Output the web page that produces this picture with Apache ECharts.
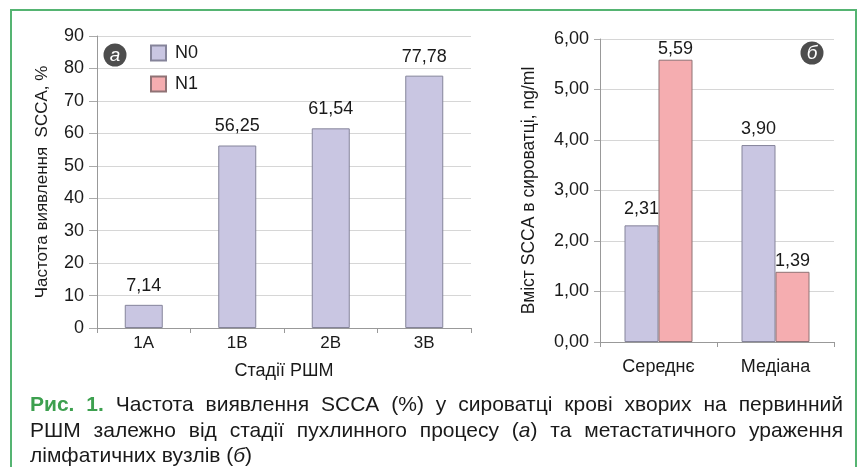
<!DOCTYPE html>
<html>
<head>
<meta charset="utf-8">
<script src="https://cdn.jsdelivr.net/npm/echarts@6/dist/echarts.min.js"></script>
<style>
  html, body { margin: 0; padding: 0; background: #fff; }
  #main { width: 859px; height: 467px; }
</style>
</head>
<body>
<div id="main"></div>
<script>
// дані: стадії РШМ (а) та вміст SCCA (б)
var stages = ['1A', '1B', '2B', '3B'];
var stageN0 = [7.14, 56.25, 61.54, 77.78];

var stats = ['Середнє', 'Медіана'];
var statN0 = [2.31, 3.90];
var statN1 = [5.59, 1.39];

var captionLines = [
  ['Рис.', '1.', 'Частота', 'виявлення', 'SCCA', '(%)', 'у', 'сироватці', 'крові', 'хворих', 'на', 'первинний'],
  ['РШМ', 'залежно', 'від', 'стадії', 'пухлинного', 'процесу', '(а)', 'та', 'метастатичного', 'ураження'],
  ['лімфатичних', 'вузлів', '(б)']
];

var FONT = '"Liberation Sans", Arial, sans-serif';
var c_n0 = '#c9c6e2', c_n1 = '#f5adb0';
var c_green = '#55b472';

//формат числа з комою
function comma(v) {
    return v.toFixed(2).replace('.', ',');
}

//вимірювання ширини тексту для вирівнювання підпису
var ctx = document.createElement('canvas').getContext('2d');
function textWidth(txt, font) {
    ctx.font = font;
    return ctx.measureText(txt).width;
}

//підпис: рядки по ширині
function buildCaption() {
    var els = [];
    var x0 = 30, x1 = 843, fs = 21;
    var ys = [405, 431, 456];
    var normal = fs + 'px ' + FONT;
    var bold = 'bold ' + fs + 'px ' + FONT;
    for (var li = 0; li < captionLines.length; li++) {
        var words = captionLines[li];
        var fonts = [], widths = [], sum = 0;
        for (var i = 0; i < words.length; i++) {
            var isBold = (li === 0 && i < 2);
            fonts.push(isBold ? bold : normal);
            widths.push(textWidth(words[i], fonts[i]));
            sum += widths[i];
        }
        var gap = (li < 2) ? (x1 - x0 - sum) / (words.length - 1) : textWidth(' ', normal);
        var x = x0;
        for (var j = 0; j < words.length; j++) {
            var isB = (li === 0 && j < 2);
            var w = words[j];
            var st = {
                font: fonts[j],
                fill: isB ? '#3da04f' : '#1a1a1a',
                textVerticalAlign: 'middle'
            };
            //буква в дужках курсивом
            if (w === '(а)' || w === '(б)') {
                st.text = '{n|(}{i|' + w.charAt(1) + '}{n|)}';
                st.rich = {
                    n: { font: normal, fill: '#1a1a1a' },
                    i: { font: 'italic ' + normal, fill: '#1a1a1a' }
                };
            } else {
                st.text = w;
            }
            els.push({ type: 'text', x: x, y: ys[li], style: st });
            x += widths[j] + gap;
        }
    }
    return els;
}

function badge(cx, cy, letter) {
    return [
        { type: 'circle', shape: { cx: cx, cy: cy, r: 11.5 }, style: { fill: '#4d4d4d' } },
        { type: 'text', x: cx, y: cy + 1, style: {
            text: letter, fill: '#fff', font: 'italic 19px ' + FONT,
            textAlign: 'center', textVerticalAlign: 'middle' } }
    ];
}

var axisLabelStyle = { fontFamily: FONT, color: '#1a1a1a' };
var nameStyle = { fontFamily: FONT, color: '#1a1a1a' };

var chart = echarts.init(document.getElementById('main'), null, { renderer: 'canvas' });

var option = {
    backgroundColor: '#fff',
    animation: false,
    legend: {
        data: ['N0', 'N1'],
        orient: 'vertical',
        left: 150, top: 44,
        padding: 0,
        itemWidth: 15, itemHeight: 15,
        itemGap: 13,
        icon: 'rect',
        textStyle: { fontFamily: FONT, fontSize: 18, color: '#1a1a1a', padding: [0, 0, 0, 4] }
    },
    grid: [
        { left: 97, right: 388, top: 36, bottom: 139 },
        { left: 600, right: 25, top: 39, bottom: 125 }
    ],
    xAxis: [
        {
            gridIndex: 0, type: 'category', data: stages,
            name: 'Стадії РШМ', nameLocation: 'middle', nameGap: 34,
            nameTextStyle: Object.assign({ fontSize: 18 }, nameStyle),
            axisLine: { lineStyle: { color: '#999' } },
            axisTick: { show: true, length: 5, lineStyle: { color: '#999' } },
            axisLabel: Object.assign({ fontSize: 17, margin: 7 }, axisLabelStyle)
        },
        {
            gridIndex: 1, type: 'category', data: stats,
            axisLine: { lineStyle: { color: '#999' } },
            axisTick: { show: true, length: 5, lineStyle: { color: '#999' } },
            axisLabel: Object.assign({ fontSize: 18, margin: 16 }, axisLabelStyle)
        }
    ],
    yAxis: [
        {
            gridIndex: 0, type: 'value', min: 0, max: 90, interval: 10,
            name: 'Частота виявлення  SCCA, %', nameLocation: 'middle', nameGap: 46, nameRotate: 90,
            nameTextStyle: Object.assign({ fontSize: 17 }, nameStyle),
            axisLine: { show: true, lineStyle: { color: '#999' } },
            axisTick: { show: true, length: 8, lineStyle: { color: '#aaa' } },
            splitLine: { lineStyle: { color: '#d6d6d6' } },
            axisLabel: Object.assign({ fontSize: 18, margin: 13 }, axisLabelStyle)
        },
        {
            gridIndex: 1, type: 'value', min: 0, max: 6, interval: 1,
            name: 'Вміст SCCA в сироватці, ng/ml', nameLocation: 'middle', nameGap: 62, nameRotate: 90,
            nameTextStyle: Object.assign({ fontSize: 17.5 }, nameStyle),
            axisLine: { show: true, lineStyle: { color: '#999' } },
            axisTick: { show: true, length: 6, lineStyle: { color: '#aaa' } },
            splitLine: { lineStyle: { color: '#d6d6d6' } },
            axisLabel: Object.assign({ fontSize: 18, margin: 11, formatter: comma }, axisLabelStyle)
        }
    ],
    series: [
        {
            name: 'N0', type: 'bar', xAxisIndex: 0, yAxisIndex: 0,
            data: stageN0, barWidth: 38,
            itemStyle: { color: c_n0, borderColor: '#85849a', borderWidth: 1 },
            label: { show: true, position: 'top', distance: 10, fontFamily: FONT, fontSize: 18, color: '#1a1a1a',
                formatter: function (p) { return comma(p.value); } }
        },
        {
            name: 'N0', type: 'bar', xAxisIndex: 1, yAxisIndex: 1,
            data: statN0, barWidth: 34, barGap: '0%',
            itemStyle: { color: c_n0, borderColor: '#85849a', borderWidth: 1 },
            label: { show: true, position: 'top', distance: 7, fontFamily: FONT, fontSize: 18, color: '#1a1a1a',
                formatter: function (p) { return comma(p.value); } }
        },
        {
            name: 'N1', type: 'bar', xAxisIndex: 1, yAxisIndex: 1,
            data: statN1, barWidth: 34, barGap: '0%',
            itemStyle: { color: c_n1, borderColor: '#8f7275', borderWidth: 1 },
            label: { show: true, position: 'top', distance: 2, fontFamily: FONT, fontSize: 18, color: '#1a1a1a',
                formatter: function (p) { return comma(p.value); } }
        }
    ],
    graphic: [
        { type: 'rect', shape: { x: 11, y: 10, width: 845, height: 480 },
          style: { fill: 'none', stroke: c_green, lineWidth: 2 } }
    ].concat(badge(115, 55, 'а'), badge(812, 53, 'б'), buildCaption())
};

chart.setOption(option);
</script>
</body>
</html>
